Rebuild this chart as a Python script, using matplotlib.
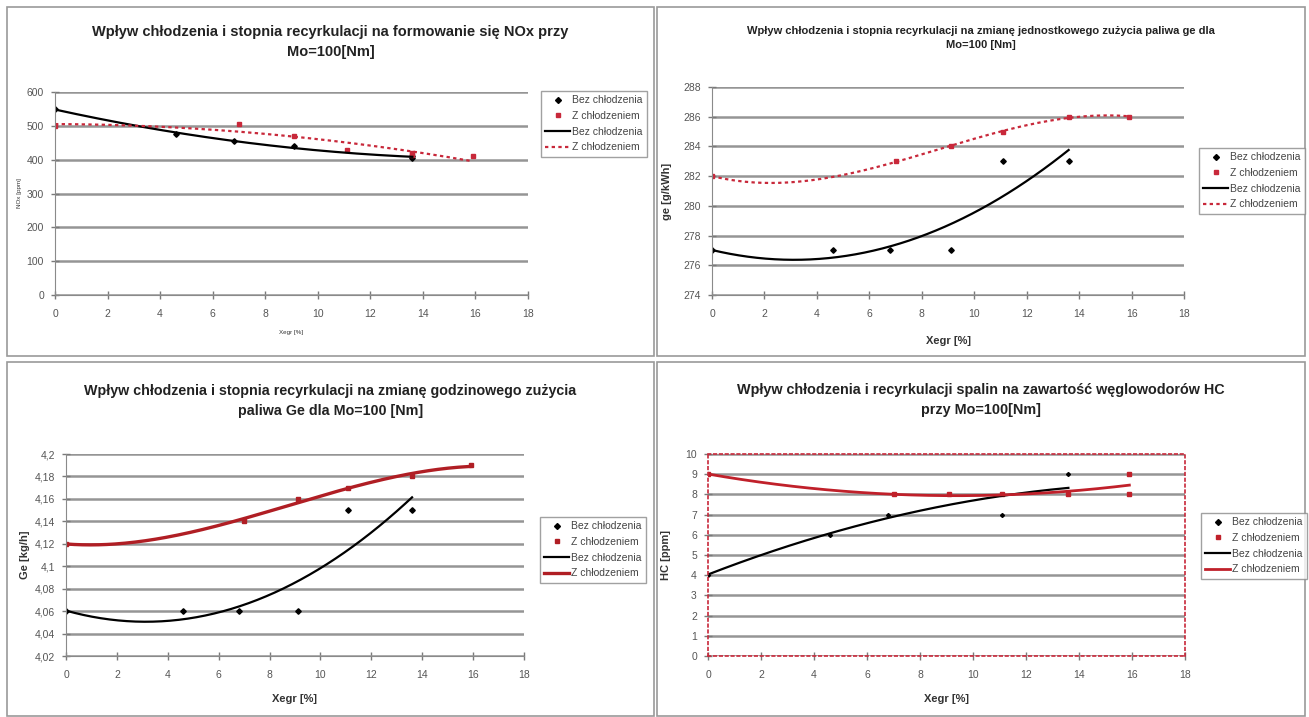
import numpy as np
import matplotlib
matplotlib.use("Agg")
import matplotlib.pyplot as plt
from matplotlib.patches import Rectangle
from matplotlib.lines import Line2D

plt.rcParams['font.family'] = ['Liberation Sans', 'DejaVu Sans']

W, H = 1309, 717

# ---- data ----
# NOx [ppm]
nox_x_bez = [0, 4.6, 6.8, 9.1, 13.6, 13.6]
nox_y_bez = [550, 475, 455, 440, 405, 410]
nox_x_z = [0, 7.0, 9.1, 11.1, 13.6, 13.6, 15.9]
nox_y_z = [500, 505, 470, 430, 420, 415, 410]

# ge [g/kWh]
ge_x_bez = [0, 4.6, 6.8, 9.1, 11.1, 13.6]
ge_y_bez = [277, 277, 277, 277, 283, 283]
ge_x_z = [0, 7.0, 9.1, 11.1, 13.6, 15.9]
ge_y_z = [282, 283, 284, 285, 286, 286]

# Ge [kg/h]
gh_x_bez = [0, 4.6, 6.8, 9.1, 11.1, 13.6]
gh_y_bez = [4.06, 4.06, 4.06, 4.06, 4.15, 4.15]
gh_x_z = [0, 7.0, 9.1, 11.1, 13.6, 15.9]
gh_y_z = [4.12, 4.14, 4.16, 4.17, 4.18, 4.19]

# HC [ppm]
hc_x_bez = [0, 4.6, 6.8, 9.1, 11.1, 13.6, 13.6]
hc_y_bez = [4, 6, 7, 8, 7, 9, 8]
hc_x_z = [0, 7.0, 9.1, 11.1, 13.6, 15.9, 15.9]
hc_y_z = [9, 8, 8, 8, 8, 9, 8]

RED = '#c8283a'
GRAY = '#555555'

fig = plt.figure(figsize=(W / 100, H / 100), dpi=100)
fig.patch.set_facecolor('white')


def frac(x0, y0, x1, y1):
    return [x0 / W, 1 - y1 / H, (x1 - x0) / W, (y1 - y0) / H]


# panel frames
frames = [(7, 7, 654, 356), (657, 7, 1305, 356),
          (7, 362, 654, 716), (657, 362, 1305, 716)]
for (x0, y0, x1, y1) in frames:
    fig.patches.append(Rectangle((x0 / W, 1 - y1 / H), (x1 - x0) / W, (y1 - y0) / H,
                                 transform=fig.transFigure, fill=False,
                                 edgecolor='#9a9a9a', lw=1.2))


def trend(ax, xs, ys, deg, **kw):
    c = np.polyfit(xs, ys, deg)
    xx = np.linspace(min(xs), max(xs), 200)
    ax.plot(xx, np.polyval(c, xx), **kw)


def panel(rect, frame, title, tsize, ty, ylim, ystep, ylabel, lsize, lbold,
          xb, yb, xz, yz, deg_b, deg_z, zstyle, zcol, zlw, legpos,
          yfmt=None, red_border=False, msize=3.5, xlpad=4, ylpad=4):
    ax = fig.add_axes(frac(*rect))
    ax.set_xlim(0, 18)
    ax.set_ylim(*ylim)
    ax.set_xticks(np.arange(0, 19, 2))
    yt = np.arange(ylim[0], ylim[1] + ystep / 2, ystep)
    ax.set_yticks(yt)
    if yfmt:
        ax.set_yticklabels([yfmt(v) for v in yt])
    ax.yaxis.grid(True, color='#959595', lw=1.8)
    ax.set_axisbelow(True)
    ax.tick_params(direction='inout', length=6, width=1, colors='#7a7a7a',
                   labelcolor=GRAY, labelsize=7.5)
    ax.tick_params(axis='x', pad=7)
    ax.tick_params(axis='y', pad=5)
    for s in ['top', 'right']:
        ax.spines[s].set_visible(False)
    for s in ['left', 'bottom']:
        ax.spines[s].set_color('#8a8a8a')
    if red_border:
        for s in ['top', 'right', 'left', 'bottom']:
            ax.spines[s].set_visible(True)
            ax.spines[s].set_color(RED)
            ax.spines[s].set_linestyle((0, (1.5, 2)))
            ax.spines[s].set_linewidth(1.2)
    ax.plot(xb, yb, 'D', color='black', ms=msize * 0.8, ls='none')
    ax.plot(xz, yz, 's', color=zcol, ms=msize, ls='none')
    trend(ax, xb, yb, deg_b, color='black', lw=1.6)
    trend(ax, xz, yz, deg_z, color=zcol, lw=zlw, ls=zstyle)
    cx = (frame[0] + frame[2]) / 2 / W
    fig.text(cx, 1 - ty / H, title, ha='center', va='center', fontsize=tsize,
             fontweight='bold', color='#222222', linespacing=1.55)
    w = 'bold' if lbold else 'normal'
    ax.set_ylabel(ylabel, fontsize=lsize, fontweight=w, color='#333333', labelpad=ylpad)
    ax.set_xlabel('Xegr [%]', fontsize=lsize, fontweight=w, color='#333333', labelpad=xlpad)
    handles = [Line2D([], [], marker='D', color='black', ls='none', ms=3),
               Line2D([], [], marker='s', color=zcol, ls='none', ms=3),
               Line2D([], [], color='black', lw=1.6),
               Line2D([], [], color=zcol, lw=zlw if zstyle == '-' else 1.6, ls=zstyle)]
    labels = ['Bez chłodzenia', 'Z chłodzeniem', 'Bez chłodzenia', 'Z chłodzeniem']
    leg = fig.legend(handles, labels, loc='upper left',
                     bbox_to_anchor=(legpos[0] / W, 1 - legpos[1] / H),
                     fontsize=7.5, frameon=True, fancybox=False,
                     edgecolor='#8a8a8a', handlelength=2.4, handletextpad=0.2,
                     borderpad=0.4, labelspacing=0.55, borderaxespad=0)
    for t in leg.get_texts():
        t.set_color('#444444')
    return ax


comma = lambda v: ('%g' % round(v, 2)).replace('.', ',')

panel((55, 92, 528, 295), frames[0],
      'Wpływ chłodzenia i stopnia recyrkulacji na formowanie się NOx przy\nMo=100[Nm]',
      10.5, 42, (0, 600), 100, 'NOx [ppm]', 4.5, False,
      nox_x_bez, nox_y_bez, nox_x_z, nox_y_z, 2, 2, (0, (1.5, 1.5)), RED, 1.6,
      (541, 91), xlpad=8, ylpad=3)

panel((712, 87, 1184, 295), frames[1],
      'Wpływ chłodzenia i stopnia recyrkulacji na zmianę jednostkowego zużycia paliwa ge dla\nMo=100 [Nm]',
      8, 38, (274, 288), 2, 'ge [g/kWh]', 8, True,
      ge_x_bez, ge_y_bez, ge_x_z, ge_y_z, 2, 3, (0, (1.5, 1.5)), RED, 1.6,
      (1199, 148), xlpad=12, ylpad=8)

panel((66, 454, 524, 656), frames[2],
      'Wpływ chłodzenia i stopnia recyrkulacji na zmianę godzinowego zużycia\npaliwa Ge dla Mo=100 [Nm]',
      10.3, 401, (4.02, 4.2), 0.02, 'Ge [kg/h]', 8, True,
      gh_x_bez, gh_y_bez, gh_x_z, gh_y_z, 2, 3, '-', '#b01e24', 2.4,
      (540, 517), yfmt=comma, xlpad=10, ylpad=3)

panel((708, 454, 1185, 656), frames[3],
      'Wpływ chłodzenia i recyrkulacji spalin na zawartość węglowodorów HC\nprzy Mo=100[Nm]',
      10.4, 400, (0, 10), 1, 'HC [ppm]', 8, True,
      hc_x_bez, hc_y_bez, hc_x_z, hc_y_z, 2, 2, '-', '#c0202a', 2.0,
      (1201, 513), red_border=True, msize=2.5, xlpad=10, ylpad=10)

fig.savefig('out.png', dpi=100)
